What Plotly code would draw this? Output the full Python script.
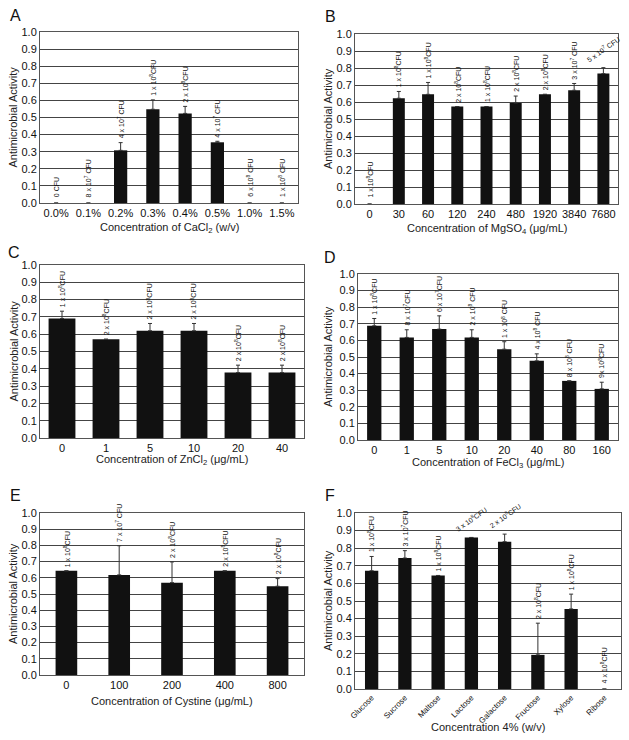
import plotly.graph_objects as go

W, H = 629, 740

# ---------------- data ----------------
A_cats = ["0.0%", "0.1%", "0.2%", "0.3%", "0.4%", "0.5%", "1.0%", "1.5%"]
A_vals = [0, 0, 0.308, 0.548, 0.524, 0.355, 0, 0]
A_err = [0, 0, 0.045, 0.055, 0.041, 0.006, 0, 0]
A_labels = ["0 CFU", "8 x 10<sup>7</sup> CFU", "4 x 10<sup>7</sup> CFU", "1 x 10<sup>8</sup>CFU",
            "2 x 10<sup>8</sup>CFU", "4 x 10<sup>7</sup> CFU", "6 x 10<sup>8</sup> CFU", "1 x 10<sup>8</sup> CFU"]
A_angles = [-90, -90, -90, -90, -90, -90, -90, -90]

B_cats = ["0", "30", "60", "120", "240", "480", "1920", "3840", "7680"]
B_vals = [0, 0.622, 0.645, 0.573, 0.573, 0.594, 0.645, 0.669, 0.767]
B_err = [0, 0.04, 0.07, 0, 0, 0.041, 0, 0.04, 0.035]
B_labels = ["1 x 10<sup>8</sup>CFU", "1 x 10<sup>8</sup>CFU", "1 x 10<sup>8</sup>CFU", "2 x 10<sup>8</sup>CFU",
            "1 x 10<sup>8</sup>CFU", "2 x 10<sup>8</sup>CFU", "2 x 10<sup>8</sup>CFU", "3 x 10<sup>7</sup> CFU",
            "5 x 10<sup>7</sup> CFU"]
B_angles = [-90, -90, -90, -90, -90, -90, -90, -90, -35]

C_cats = ["0", "1", "5", "10", "20", "40"]
C_vals = [0.691, 0.571, 0.62, 0.62, 0.378, 0.378]
C_err = [0.042, 0, 0.042, 0.042, 0.043, 0.043]
C_labels = ["1 x 10<sup>8</sup>CFU", "2 x 10<sup>8</sup>CFU", "2 x 10<sup>8</sup>CFU", "2 x 10<sup>8</sup>CFU",
            "2 x 10<sup>8</sup>CFU", "2 x 10<sup>8</sup>CFU"]
C_angles = [-90, -90, -90, -90, -90, -90]

D_cats = ["0", "1", "5", "10", "20", "40", "80", "160"]
D_vals = [0.688, 0.618, 0.668, 0.618, 0.547, 0.477, 0.356, 0.308]
D_err = [0.044, 0.046, 0.08, 0.046, 0.045, 0.042, 0, 0.04]
D_labels = ["1 x 10<sup>8</sup>CFU", "8 x 10<sup>7</sup>CFU", "6 x 10<sup>7</sup>CFU", "2 x 10<sup>8</sup> CFU",
            "1 x 10<sup>8</sup> CFU", "4 x 10<sup>8</sup> CFU", "8 x 10<sup>8</sup> CFU", "9x 10<sup>8</sup>CFU"]
D_angles = [-90, -90, -90, -90, -90, -90, -90, -90]

E_cats = ["0", "100", "200", "400", "800"]
E_vals = [0.643, 0.618, 0.57, 0.643, 0.548]
E_err = [0, 0.18, 0.128, 0, 0.047]
E_labels = ["1 x 10<sup>8</sup>CFU", "7 x 10<sup>7</sup> CFU", "2 x 10<sup>8</sup>CFU", "2 x 10<sup>8</sup>CFU",
            "2 x 10<sup>8</sup>CFU"]
E_angles = [-90, -90, -90, -90, -90]

F_cats = ["Glucose", "Sucrose", "Maltose", "Lactose", "Galactose", "Fructose", "Xylose", "Ribose"]
F_vals = [0.672, 0.744, 0.645, 0.861, 0.837, 0.194, 0.455, 0]
F_err = [0.081, 0.042, 0, 0, 0.043, 0.18, 0.084, 0]
F_labels = ["1 x 10<sup>8</sup>CFU", "3 x 10<sup>7</sup>CFU", "1 x 10<sup>8</sup>CFU", "3 x 10<sup>8</sup>CFU",
            "2 x 10<sup>8</sup>CFU", "2 x 10<sup>8</sup>CFU", "1 x 10<sup>8</sup>CFU", "4 x 10<sup>8</sup>CFU"]
F_angles = [-90, -90, -90, -35, -35, -90, -90, -90]

y_ticks = [0.0, 0.1, 0.2, 0.3, 0.4, 0.5, 0.6, 0.7, 0.8, 0.9, 1.0]

panels = [
    dict(letter="A", cats=A_cats, vals=A_vals, err=A_err, labels=A_labels, angles=A_angles,
         title="Concentration of CaCl<sub>2</sub> (w/v)", box=(40, 298, 32, 203), bw=0.41,
         title_y=228, ylab_x=13, letter_xy=(15, 15), tickangle=0, tfs=11),
    dict(letter="B", cats=B_cats, vals=B_vals, err=B_err, labels=B_labels, angles=B_angles,
         title="Concentration of MgSO<sub>4</sub> (μg/mL)", box=(355, 618, 34, 204), bw=0.41,
         title_y=229, ylab_x=328, letter_xy=(330, 16), tickangle=0, tfs=11),
    dict(letter="C", cats=C_cats, vals=C_vals, err=C_err, labels=C_labels, angles=C_angles,
         title="Concentration of ZnCl<sub>2</sub> (μg/mL)", box=(40, 304, 265, 438), bw=0.61,
         title_y=460, ylab_x=13, letter_xy=(14, 252), tickangle=0, tfs=11),
    dict(letter="D", cats=D_cats, vals=D_vals, err=D_err, labels=D_labels, angles=D_angles,
         title="Concentration of FeCl<sub>3</sub> (μg/mL)", box=(358, 618, 274, 440), bw=0.44,
         title_y=463, ylab_x=328, letter_xy=(330, 257), tickangle=0, tfs=11),
    dict(letter="E", cats=E_cats, vals=E_vals, err=E_err, labels=E_labels, angles=E_angles,
         title="Concentration of Cystine (μg/mL)", box=(40, 304, 513, 675), bw=0.41,
         title_y=701, ylab_x=13, letter_xy=(15, 495), tickangle=0, tfs=11),
    dict(letter="F", cats=F_cats, vals=F_vals, err=F_err, labels=F_labels, angles=F_angles,
         title="Concentration 4% (w/v)", box=(355, 621, 513, 689), bw=0.40,
         title_y=727, ylab_x=328, letter_xy=(330, 495), tickangle=-45, tfs=8),
]

FONT = "Liberation Sans, Arial, sans-serif"
fig = go.Figure()
annotations = []
layout = {}

for i, p in enumerate(panels):
    n = i + 1
    xa = "x" if n == 1 else f"x{n}"
    ya = "y" if n == 1 else f"y{n}"
    x0, x1, y0, y1 = p["box"]
    fig.add_trace(go.Bar(
        x=p["cats"], y=p["vals"], xaxis=xa, yaxis=ya, width=p["bw"],
        marker=dict(color="#111111", line=dict(width=0)),
        error_y=dict(type="data", array=p["err"], arrayminus=[0] * len(p["err"]),
                     symmetric=False, color="#333333", thickness=1, width=2),
        showlegend=False, hoverinfo="x+y",
    ))
    layout["xaxis" if n == 1 else f"xaxis{n}"] = dict(
        domain=[x0 / W, x1 / W], anchor=ya, type="category",
        range=[-0.5, len(p["cats"]) - 0.5], automargin=False,
        showline=True, mirror=True, linecolor="#555555", linewidth=1,
        showgrid=False, ticks="", tickangle=p["tickangle"],
        tickfont=dict(family=FONT, size=p["tfs"], color="#111111"),
        fixedrange=True,
    )
    layout["yaxis" if n == 1 else f"yaxis{n}"] = dict(
        domain=[1 - y1 / H, 1 - y0 / H], anchor=xa, range=[0, 1], automargin=False,
        tickvals=y_ticks, ticktext=[f"{v:.1f}" for v in y_ticks],
        showline=True, mirror=True, linecolor="#555555", linewidth=1,
        showgrid=True, gridcolor="#444444", gridwidth=1,
        ticks="", tickfont=dict(family=FONT, size=11, color="#111111"),
        zeroline=False, fixedrange=True,
    )
    # bar labels (x given as category index)
    for k, (v, e, lab, ang) in enumerate(zip(p["vals"], p["err"], p["labels"], p["angles"])):
        annotations.append(dict(
            x=k, y=v + e, xref=xa, yref=ya, text=lab, showarrow=False,
            textangle=ang, xanchor="center", yanchor="bottom",
            yshift=2 if v + e > 0 else 4,
            font=dict(family=FONT, size=7, color="#111111"),
        ))
    # x title
    annotations.append(dict(
        x=(x0 + x1) / 2 / W, y=1 - p["title_y"] / H, xref="paper", yref="paper",
        text=p["title"], showarrow=False, xanchor="center", yanchor="middle",
        font=dict(family=FONT, size=11, color="#222222"),
    ))
    # y title
    annotations.append(dict(
        x=p["ylab_x"] / W, y=1 - (y0 + y1) / 2 / H, xref="paper", yref="paper",
        text="Antimicrobial Activity", showarrow=False, textangle=-90,
        xanchor="center", yanchor="middle",
        font=dict(family=FONT, size=11, color="#222222"),
    ))
    # panel letter
    lx, ly = p["letter_xy"]
    annotations.append(dict(
        x=lx / W, y=1 - ly / H, xref="paper", yref="paper",
        text=p["letter"], showarrow=False, xanchor="center", yanchor="middle",
        font=dict(family=FONT, size=16, color="#111111"),
    ))

fig.update_layout(
    width=W, height=H, margin=dict(l=0, r=0, t=0, b=0),
    paper_bgcolor="white", plot_bgcolor="white",
    annotations=annotations,
    font=dict(family=FONT),
    **layout,
)

fig.write_html("out.html", config={"displayModeBar": False},
               post_script="document.body.style.margin='0';document.body.style.overflow='hidden';")
